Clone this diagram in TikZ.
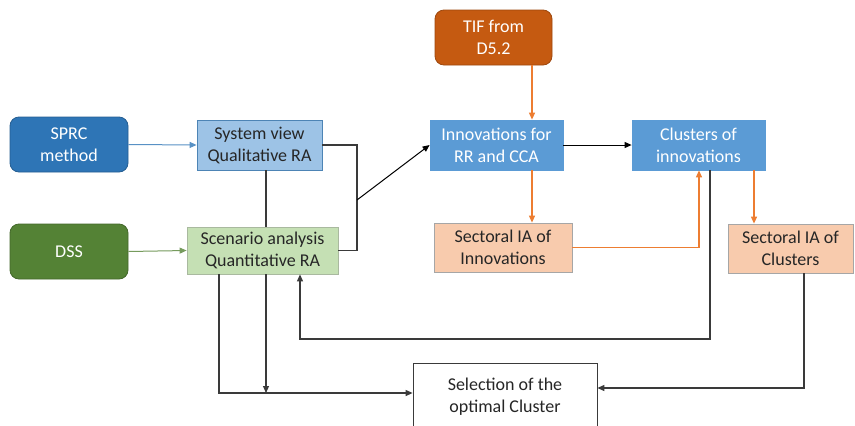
\documentclass[tikz,border=0pt]{standalone}
\usepackage{fontspec}
\setmainfont{Carlito}
\usetikzlibrary{arrows.meta,calc}
\definecolor{dblue}{HTML}{2E75B6}
\definecolor{lblue}{HTML}{9DC3E6}
\definecolor{mblue}{HTML}{5B9BD5}
\definecolor{dgreen}{HTML}{548235}
\definecolor{lgreen}{HTML}{C5E0B4}
\definecolor{dorange}{HTML}{C55A11}
\definecolor{lorange}{HTML}{F8CBAD}
\definecolor{orline}{HTML}{ED7D31}
\definecolor{txt}{HTML}{262626}
\definecolor{conn}{HTML}{3A3A3A}
\tikzset{
  box/.style={draw, line width=0.8pt, align=center, inner sep=0pt, font=\fontsize{18}{22}\selectfont},
  darkbox/.style={box, rounded corners=9pt, text=white},
  arr/.style={-{Triangle[length=7pt,width=6pt]}},
  gline/.style={conn, line width=1.1pt},
  oline/.style={orline, line width=1.1pt},
}
\begin{document}
\begin{tikzpicture}[x=1pt,y=-1pt]
\useasboundingbox[fill=white] (0,0) rectangle (855,426);
% nodes
\node[darkbox, fill=dblue, draw=dblue!80!black, minimum width=118pt, minimum height=55pt] (sprc) at (69,144.5) {SPRC\\method};
\node[box, fill=lblue, draw=mblue!85!black, text=txt, minimum width=125pt, minimum height=50pt] (sys) at (259.5,145) {System view\\Qualitative RA};
\node[darkbox, fill=dgreen, draw=dgreen!80!black, minimum width=118pt, minimum height=55pt] (dss) at (69,251.5) {DSS};
\node[box, fill=lgreen, draw=lgreen!60!gray, text=txt, minimum width=151pt, minimum height=47pt] (scen) at (262.5,250.5) {Scenario analysis\\Quantitative RA};
\node[darkbox, fill=dorange, draw=dorange!80!black, minimum width=117pt, minimum height=55pt] (tif) at (493.5,37.5) {TIF from\\D5.2};
\node[box, fill=mblue, draw=mblue, text=white, minimum width=133pt, minimum height=50pt] (innov) at (496.5,145) {Innovations for\\RR and CCA};
\node[box, fill=mblue, draw=mblue, text=white, minimum width=133pt, minimum height=50pt] (clus) at (698.5,145) {Clusters of\\innovations};
\node[box, fill=lorange, draw=gray!70, text=txt, minimum width=138pt, minimum height=49pt] (sian) at (503,247.5) {Sectoral IA of\\Innovations};
\node[box, fill=lorange, draw=gray!70, text=txt, minimum width=125pt, minimum height=49pt] (siac) at (790.5,248.5) {Sectoral IA of\\Clusters};
\node[box, fill=white, draw=conn, text=txt, minimum width=184pt, minimum height=68pt] (sel) at (505,397) {Selection of the\\optimal Cluster};
% coordinates
\coordinate (jr) at (357,200);
\coordinate (xm) at (266,0);
\coordinate (xl) at (219,0);
\coordinate (xr) at (300,0);
\coordinate (xo) at (532,0);
\coordinate (xc) at (699,0);
\coordinate (xd) at (710,0);
\coordinate (xs) at (754,0);
\coordinate (xe) at (804,0);
\coordinate (yl) at (0,393);
\coordinate (yr) at (0,388);
\coordinate (yb) at (0,339);
% connectors
\draw[arr, dblue!80!white, line width=1pt] (sprc.east) -- (sys.west);
\draw[arr, dgreen!80!white, line width=1pt] (dss.east) -- (scen.west);
\draw[gline] (sys.south -| xm) -- (scen.north -| xm);
\draw[gline] (sys.east) -| (jr) |- (scen.east);
\draw[arr, black, line width=1pt] (jr) -- (innov.west);
\draw[arr, oline] (tif.south -| xo) -- (innov.north -| xo);
\draw[arr, black, line width=1pt] (innov.east) -- (clus.west);
\draw[arr, oline] (innov.south -| xo) -- (sian.north -| xo);
\draw[arr, oline] (sian.east) -| (clus.south -| xc);
\draw[arr, oline] (clus.south -| xs) -- (siac.north -| xs);
\draw[arr, gline] (clus.south -| xd) |- (yb -| xr) -- (scen.south -| xr);
\draw[arr, gline] (siac.south -| xe) |- (sel.east |- yr);
\draw[arr, gline] (scen.south -| xl) |- (sel.west |- yl);
\draw[arr, gline] (scen.south -| xm) -- (yl -| xm);
\end{tikzpicture}
\end{document}
